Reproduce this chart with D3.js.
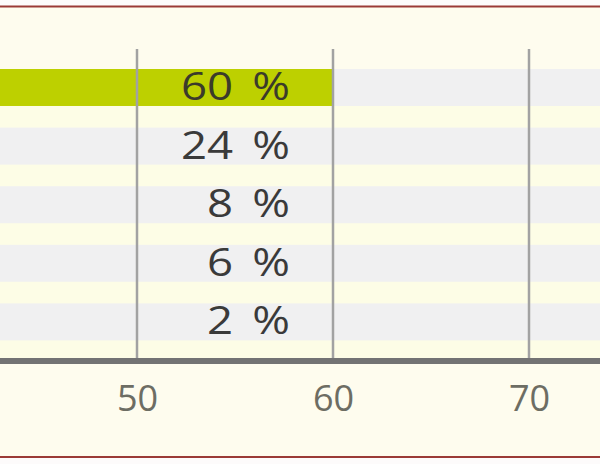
<!DOCTYPE html>
<html>
<head>
<meta charset="utf-8">
<script src="https://cdn.jsdelivr.net/npm/d3@7"></script>
<style>
html,body{margin:0;padding:0;background:#fdfbfb;}
svg{display:block;}
text{font-family:"Open Sans",sans-serif;}
</style>
</head>
<body>
<svg id="chart" width="600" height="464"></svg>
<script>
// Data (category names are outside the visible crop)
const categories = ["cat1", "cat2", "cat3", "cat4", "cat5"];
const values = [60, 24, 8, 6, 2];
const valueNumbers = ["60", "24", "8", "6", "2"];
const unit = "%";
const tickValues = [50, 60, 70];
const highlight = [true, false, false, false, false];

const W = 600, H = 464;
const svg = d3.select("#chart");

// Scales: the visible picture is a crop of a wider chart
const x = d3.scaleLinear().domain([50, 70]).range([137, 529]);
const y = d3.scaleBand().domain(categories).range([69, 340.4]).paddingInner(0.369).paddingOuter(0);

const axisY = 361;
const gridTop = 49;

// Frame
svg.append("rect").attr("x", 0).attr("y", 7).attr("width", W).attr("height", 450).attr("fill", "#fefcee");
svg.append("line").attr("x1", 0).attr("x2", W).attr("y1", 6.5).attr("y2", 6.5).attr("stroke", "#9b3a36").attr("stroke-width", 2);
svg.append("line").attr("x1", 0).attr("x2", W).attr("y1", 457).attr("y2", 457).attr("stroke", "#9b3a36").attr("stroke-width", 2);

// plot background strip (between rows)
svg.append("rect").attr("x", 0).attr("y", y(categories[0])).attr("width", W)
  .attr("height", axisY - 3 - y(categories[0])).attr("fill", "#fdfde6");

// background (100%) bars
svg.append("g").selectAll("rect").data(categories).join("rect")
  .attr("x", x(0)).attr("width", x(100) - x(0))
  .attr("y", d => y(d)).attr("height", y.bandwidth())
  .attr("fill", "#f0f0f1");

// value bars
svg.append("g").selectAll("rect").data(values).join("rect")
  .attr("x", x(0)).attr("width", d => x(d) - x(0))
  .attr("y", (d, i) => y(categories[i])).attr("height", y.bandwidth())
  .attr("fill", "#bdd000");

// gridlines
svg.append("g").selectAll("line").data(tickValues).join("line")
  .attr("x1", d => x(d)).attr("x2", d => x(d))
  .attr("y1", gridTop).attr("y2", axisY)
  .attr("stroke", "#a2a2a2").attr("stroke-width", 2.5);

// axis
const axis = d3.axisBottom(x).tickValues(tickValues).tickSize(0).tickPadding(24);
const ag = svg.append("g").attr("transform", `translate(0,${axisY})`).call(axis);
ag.select(".domain").remove();
ag.insert("line", ":first-child").attr("x1", 0).attr("x2", W).attr("y1", 0).attr("y2", 0)
  .attr("stroke", "#737373").attr("stroke-width", 6);
ag.selectAll(".tick text")
  .attr("font-size", 36).attr("fill", "#6d6d63")
  .attr("font-family", "'Open Sans',sans-serif");

// value labels (slightly widened like the reference)
const labelX = x(60) - 43;
const lab = svg.append("g").selectAll("text").data(valueNumbers).join("text")
  .attr("transform", (d, i) => `translate(${labelX},${y(categories[i]) + y.bandwidth() / 2}) scale(1.2,1)`)
  .attr("dy", "0.33em")
  .attr("text-anchor", "end")
  .attr("font-size", 38)
  .attr("fill", (d, i) => highlight[i] ? "#3b3b2a" : "#3a3a3a");
lab.append("tspan").text(d => d);
lab.append("tspan").attr("dx", 16).text(unit);
</script>
</body>
</html>
